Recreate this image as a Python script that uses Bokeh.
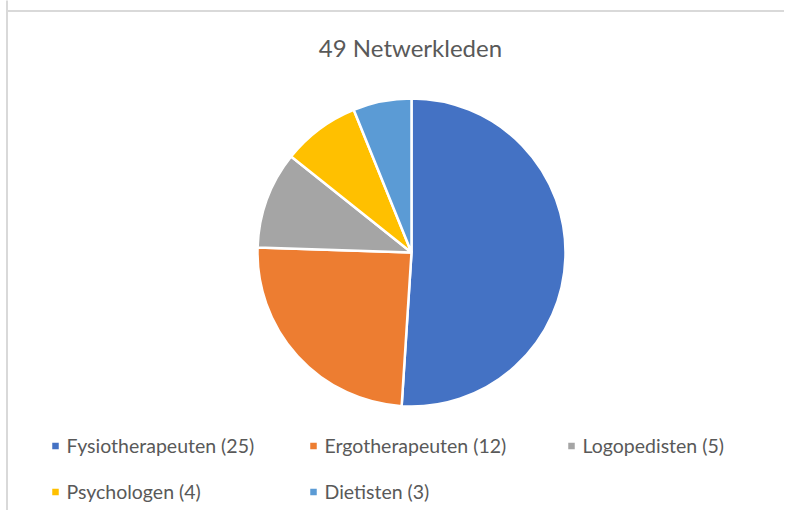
import math
from bokeh.plotting import figure
from bokeh.models import ColumnDataSource, Range1d
from bokeh.core.properties import value
from bokeh.embed import file_html
from bokeh.resources import INLINE

title_text = "49 Netwerkleden"
categories = ["Fysiotherapeuten", "Ergotherapeuten", "Logopedisten", "Psychologen", "Dietisten"]
counts = [25, 12, 5, 4, 3]
colors = ["#4472C4", "#ED7D31", "#A5A5A5", "#FFC000", "#5B9BD5"]

W, H = 784, 510
FONT = "Lato"
TXT = "#595959"

p = figure(width=W, height=H, output_backend="svg", toolbar_location=None,
           x_range=Range1d(0, W), y_range=Range1d(0, H), min_border=0)
p.axis.visible = False
p.grid.visible = False
p.outline_line_color = None
p.background_fill_color = "white"
p.border_fill_color = "white"


def Y(y_img):
    return H - y_img


# chart border (extends past the right/bottom edges, as in the reference crop)
p.line(x=[6.5, 6.5, 900], y=[Y(-100), Y(10.5), Y(10.5)], line_color="#D9D9D9", line_width=2)
p.line(x=[6.5, 6.5], y=[Y(10.5), Y(700)], line_color="#D9D9D9", line_width=2)

# pie
total = sum(counts)
starts, ends = [], []
cum = 0
for c in counts:
    starts.append(math.pi / 2 - 2 * math.pi * cum / total)
    cum += c
    ends.append(math.pi / 2 - 2 * math.pi * cum / total)
cx, cy, r = 411, Y(252), 154
src = ColumnDataSource(dict(start=starts, end=ends, color=colors))
p.wedge(x=cx, y=cy, radius=r, start_angle="start", end_angle="end", direction="clock",
        fill_color="color", line_color="white", line_width=2.5, source=src)

# title
p.text(x=[410], y=[Y(47)], text=[title_text], text_font=value(FONT), text_font_size="24px",
       text_color=TXT, text_align="center", text_baseline="middle")

# legend
labels = [f"{c} ({n})" for c, n in zip(categories, counts)]
col_x = [55, 313, 571]
row_y = [445.5, 491.5]
lx, ly = [], []
for i in range(len(labels)):
    lx.append(col_x[i % 3])
    ly.append(Y(row_y[i // 3]))
p.rect(x=lx, y=ly, width=6.5, height=6.5, fill_color=colors, line_color=None)
p.text(x=[v + 11 for v in lx], y=[v + 1 for v in ly], text=labels, text_font=value(FONT),
       text_font_size="19.5px", text_color=TXT, text_align="left", text_baseline="middle")

open("out.html", "w").write(file_html(p, INLINE))
